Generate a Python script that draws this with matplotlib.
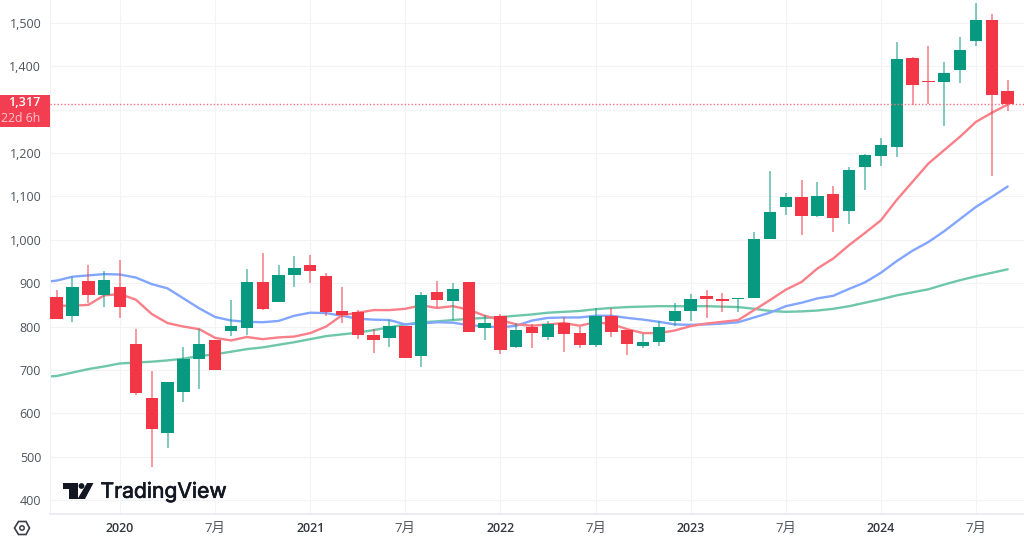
import matplotlib
matplotlib.use("Agg")
import matplotlib.pyplot as plt
import matplotlib.patheffects as pe
from matplotlib.patches import Polygon, Circle, Rectangle
from matplotlib.transforms import Affine2D

W, H = 1024, 541

# monthly candles, Sep 2019 .. Sep 2024
opens = [868, 824, 904, 873, 891, 760, 635, 555, 648, 725, 768, 789, 797, 902, 857, 918,
         943, 916, 836, 834, 781, 773, 802, 732, 879, 858, 902, 796, 825, 753, 798, 777,
         809, 786, 758, 825, 791, 756, 765, 812, 835, 870, 863, 864, 865, 1002, 1075, 1098,
         1056, 1106, 1066, 1167, 1194, 1213, 1420, 1366, 1365, 1392, 1459, 1507, 1343]
highs = [885, 915, 942, 928, 954, 795, 698, 673, 752, 795, 768, 861, 932, 970, 943, 963,
         966, 924, 891, 839, 794, 816, 802, 879, 905, 900, 902, 826, 828, 808, 807, 813,
         821, 798, 842, 842, 791, 783, 812, 854, 875, 885, 878, 866, 1017, 1158, 1108, 1139,
         1133, 1125, 1168, 1198, 1235, 1457, 1422, 1447, 1409, 1468, 1545, 1521, 1368]
lows = [817, 811, 854, 845, 820, 643, 477, 519, 627, 656, 701, 778, 781, 839, 857, 892,
        900, 825, 809, 771, 740, 753, 728, 707, 845, 815, 788, 769, 737, 751, 750, 769,
        741, 750, 753, 775, 735, 750, 756, 801, 813, 819, 833, 833, 865, 1002, 1058, 1012,
        1052, 1018, 1037, 1114, 1170, 1191, 1310, 1314, 1262, 1361, 1447, 1148, 1298]
closes = [818, 891, 873, 908, 844, 647, 564, 672, 725, 760, 701, 802, 902, 841, 920, 935,
          928, 833, 826, 781, 769, 802, 728, 873, 862, 886, 788, 808, 747, 792, 785, 807,
          783, 758, 825, 788, 760, 765, 799, 836, 863, 864, 858, 866, 1002, 1065, 1098, 1056,
          1100, 1051, 1161, 1195, 1218, 1418, 1357, 1363, 1385, 1437, 1507, 1334, 1314]

# the three moving averages, first value sits left of the first candle
ma_fast = [851, 848, 848, 850, 872, 875, 862, 829, 808, 800, 794, 774, 768, 776, 771, 775, 777,
           785, 800, 826, 832, 838, 838, 841, 849, 843, 847, 839, 825, 815, 805, 802, 805,
           808, 802, 810, 806, 794, 785, 785, 791, 801, 807, 811, 815, 838, 861, 885, 903,
           934, 957, 988, 1016, 1045, 1092, 1134, 1176, 1207, 1238, 1272, 1293, 1312]
ma_mid = [902, 906, 915, 918, 921, 920, 913, 898, 888, 865, 842, 822, 814, 811, 810, 813, 825,
          832, 831, 825, 818, 816, 815, 805, 807, 810, 809, 803, 801, 798, 802, 814, 820,
          821, 821, 825, 825, 820, 816, 811, 805, 804, 805, 807, 810, 821, 832, 847, 855,
          865, 871, 887, 902, 924, 951, 975, 995, 1020, 1048, 1076, 1099, 1123]
ma_slow = [684, 686, 694, 702, 708, 715, 717, 719, 722, 726, 732, 736, 742, 748, 752, 758, 764,
           771, 778, 782, 786, 792, 798, 805, 810, 812, 815, 818, 820, 822, 825, 828, 832,
           834, 836, 840, 843, 845, 846, 847, 847, 847, 847, 846, 845, 841, 836, 834, 835,
           837, 841, 847, 855, 863, 872, 879, 886, 897, 907, 916, 924, 932]

y_ticks = [400, 500, 600, 700, 800, 900, 1000, 1100, 1200, 1300, 1400, 1500]
x_tick_pos = [4, 10, 16, 22, 28, 34, 40, 46, 52, 58]
x_tick_labels = ["2020", "7月", "2021", "7月", "2022", "7月", "2023", "7月", "2024", "7月"]
last_price = 1314
last_label = "1,317"
countdown = "22d 6h"

RED = "#F23645"
GREEN = "#089981"
FONT = ["Open Sans", "Noto Sans CJK JP", "DejaVu Sans"]

plt.rcParams["font.family"] = FONT

fig = plt.figure(figsize=(W / 100, H / 100), dpi=100)
ax = fig.add_axes([49.5 / W, 1 - 513.5 / H, (W - 49.5) / W, 513.5 / H])
ax.set_xlim(-0.45, 61.03)
ax.set_ylim(369, 1553)

ax.grid(True, color="#F3F3F5", linewidth=0.8)
ax.set_axisbelow(True)
for name in ["top", "right"]:
    ax.spines[name].set_visible(False)
ax.spines["left"].set_color("#F0F0F3")
ax.spines["left"].set_linewidth(0.7)
ax.spines["bottom"].set_color("#E9EAEE")
ax.spines["bottom"].set_linewidth(1.2)

# 1,300 is covered by the price label in the chart
ax.set_yticks(y_ticks)
ax.set_yticklabels(["" if v == 1300 else f"{v:,}" for v in y_ticks], fontsize=9, color="#50535E")
ax.set_xticks(x_tick_pos)
ax.set_xticklabels(x_tick_labels, fontsize=9, color="#50535E")
for lab, txt in zip(ax.get_xticklabels(), x_tick_labels):
    if txt != "7月":
        lab.set_fontweight("semibold")
        lab.set_color("#33363F")
    else:
        lab.set_fontsize(9.5)
ax.tick_params(axis="both", length=0)
ax.tick_params(axis="y", pad=6)
ax.tick_params(axis="x", pad=6)

months = list(range(-1, 61))
ax.plot(months, ma_slow, color="#6FC7AB", linewidth=1.7, zorder=2, solid_capstyle="round")
ax.plot(months, ma_mid, color="#82A6FF", linewidth=1.7, zorder=2, solid_capstyle="round")
ax.plot(months, ma_fast, color="#FA7F88", linewidth=1.7, zorder=2, solid_capstyle="round")

for i, (o, h, l, c) in enumerate(zip(opens, highs, lows, closes)):
    col = GREEN if c >= o else RED
    ax.vlines(i, l, h, color=col, linewidth=1.2, alpha=0.6, zorder=3)
    ax.bar(i, abs(c - o), bottom=min(o, c), width=0.78, color=col, zorder=4,
           edgecolor="none")

ax.axhline(last_price, color="#F7727E", linewidth=1, linestyle=(0, (1, 1.5)), zorder=5)

# price label on the axis
fig.add_artist(Rectangle((0, 1 - 127 / H), 49.5 / W, 32 / H, transform=fig.transFigure,
                         facecolor="#F23E50", edgecolor="none"))
fig.text(40.5 / W, 1 - 103 / H, last_label, ha="right", va="center", fontsize=9, color="white",
         fontweight="semibold")
fig.text(40.5 / W, 1 - 118.5 / H, countdown, ha="right", va="center", fontsize=8.8, color="#FFC4CB")

# pixel transform for the logo and the small settings icon
px = Affine2D().scale(1 / W, -1 / H).translate(0, 1) + fig.transFigure
LOGO = "#131722"
fig.add_artist(Polygon([(62.5, 483), (77.5, 483), (77.5, 499), (69, 499), (69, 489), (62.5, 489)],
                       transform=px, facecolor=LOGO, edgecolor="none"))
fig.add_artist(Circle((81.5, 486), 2.9, transform=px, facecolor=LOGO, edgecolor="none"))
fig.add_artist(Polygon([(87, 483), (93.5, 483), (85, 499), (77.5, 499)], transform=px,
                       facecolor=LOGO, edgecolor="none"))
logo_text = fig.text(100.5 / W, 1 - 491.5 / H, "TradingView", ha="left", va="center", fontsize=15.2,
                     color=LOGO, fontfamily="Inter")
logo_text.set_path_effects([pe.withStroke(linewidth=0.5, foreground=LOGO)])

hex_pts = [(14.5, 528), (18.5, 521.5), (26, 521.5), (29.5, 528), (26, 534.5), (18.5, 534.5)]
fig.add_artist(Polygon(hex_pts, transform=px, facecolor="none", edgecolor="#3A3D47", linewidth=1.2))
fig.add_artist(Circle((22, 528), 2.2, transform=px, facecolor="none", edgecolor="#3A3D47", linewidth=1.1))

fig.savefig("out.png", dpi=100)
